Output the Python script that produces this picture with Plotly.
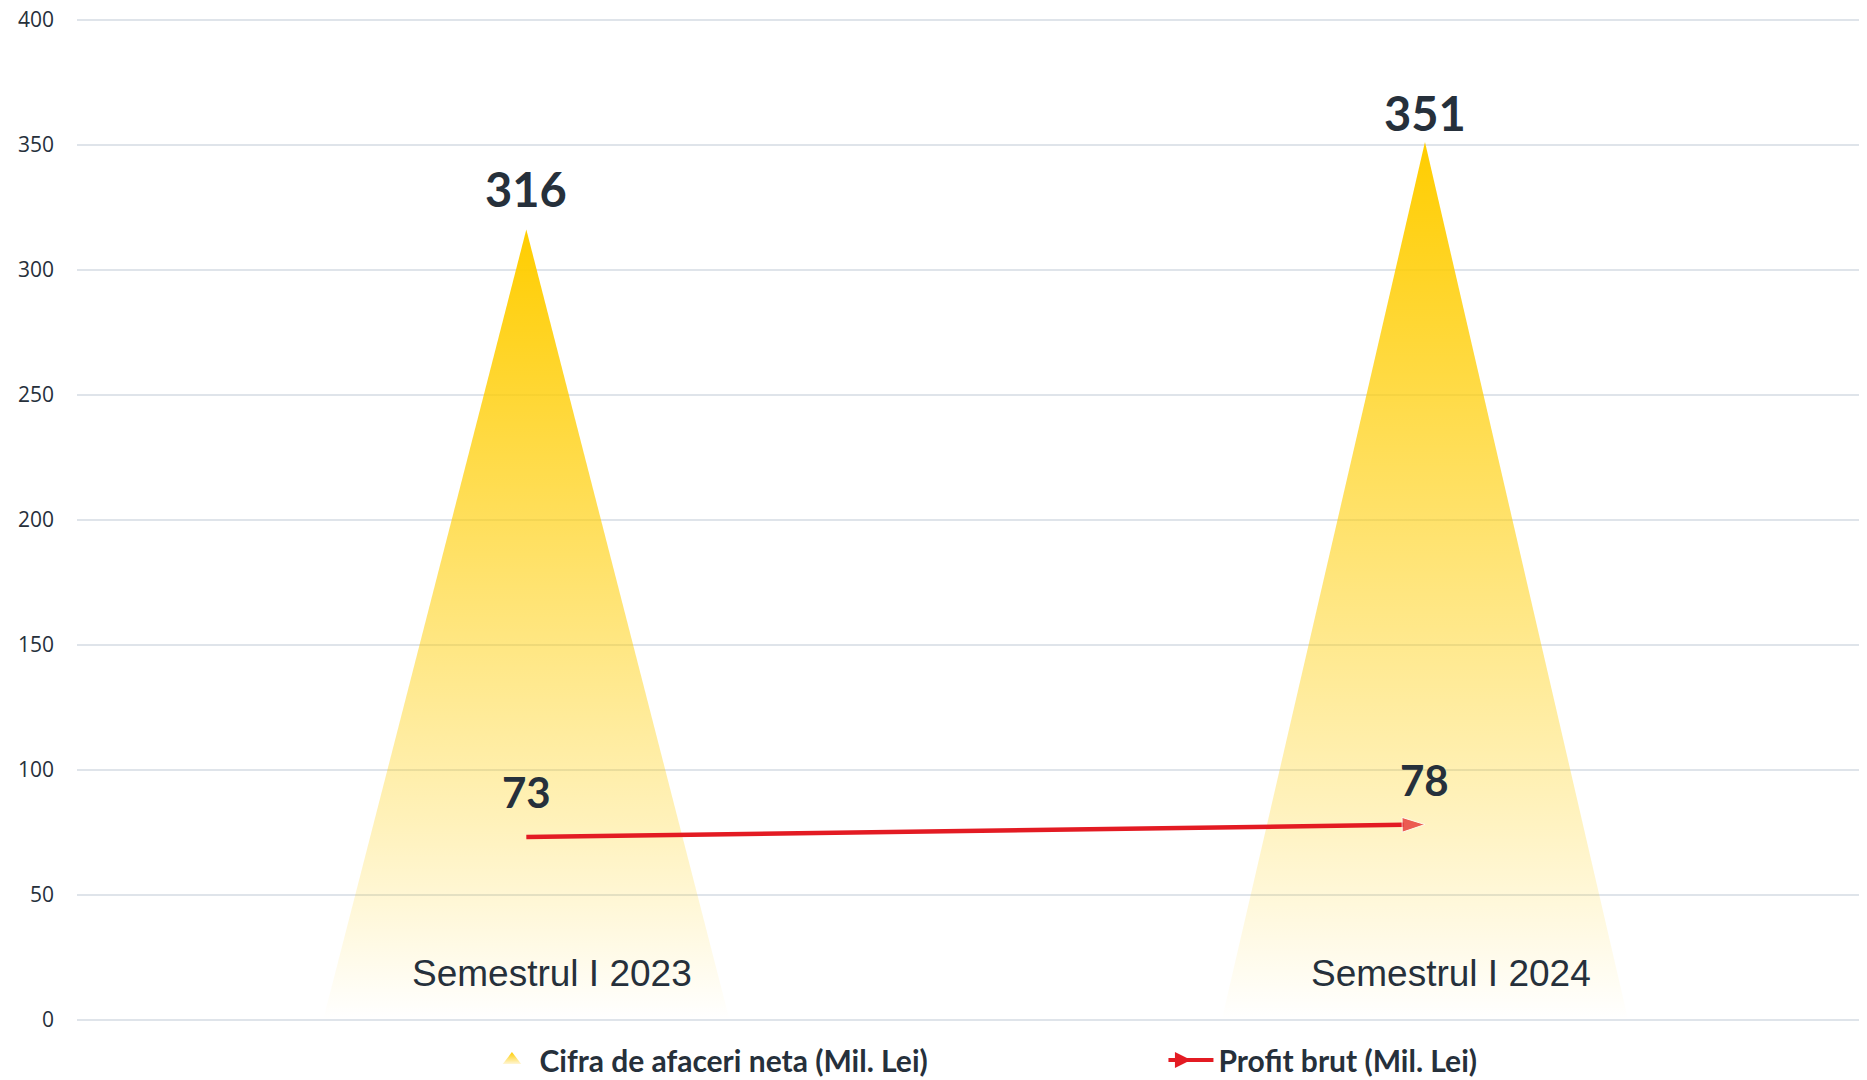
import plotly.graph_objects as go

categories = ["Semestrul I 2023", "Semestrul I 2024"]
cifra_afaceri = [316, 351]
profit_brut = [73, 78]
y_ticks = [0, 50, 100, 150, 200, 250, 300, 350, 400]
series_names = ["Cifra de afaceri neta (Mil. Lei)", "Profit brut (Mil. Lei)"]

TEXT = "#26303b"
GRID = "#dfe4ea"
YELLOW_SCALE = [[0, "rgba(255,205,0,0)"], [0.25, "rgba(255,205,0,0.27)"],
                [0.65, "rgba(255,205,0,0.66)"], [1, "rgba(255,205,0,1)"]]
RED = "#e31b23"
HALF_W = 0.226

fig = go.Figure()

# Triangles (one per category, each with its own vertical gradient)
for i, (cat, v) in enumerate(zip(categories, cifra_afaceri)):
    fig.add_trace(go.Scatter(
        x=[i - HALF_W, i, i + HALF_W, i - HALF_W],
        y=[0, v, 0, 0],
        mode="lines",
        line=dict(width=0, color="rgba(0,0,0,0)"),
        fill="toself",
        fillgradient=dict(type="vertical", colorscale=YELLOW_SCALE, start=0, stop=v),
        hoverinfo="skip",
        showlegend=False,
    ))

# Profit arrow line
fig.add_trace(go.Scatter(
    x=list(range(len(categories))),
    y=profit_brut,
    mode="lines+markers",
    line=dict(color=RED, width=4.5),
    marker=dict(symbol=["circle"] * (len(profit_brut) - 1) + ["arrow"],
                size=[4] * (len(profit_brut) - 1) + [24],
                angleref="previous", color=RED),
    showlegend=False,
))

# Legend proxies
fig.add_trace(go.Scatter(
    x=[None], y=[None], mode="markers", name=series_names[0],
    marker=dict(symbol="triangle-up", size=16, color="#ffcd00",
                gradient=dict(type="vertical", color="#fff6d8")),
))
fig.add_trace(go.Scatter(
    x=[None], y=[None], mode="lines+markers", name=series_names[1],
    line=dict(color=RED, width=4),
    marker=dict(symbol="arrow-right", size=16, color=RED),
))

annotations = []
# Triangle value labels
tri_label_shift = [41, 29]
for i, v in enumerate(cifra_afaceri):
    annotations.append(dict(
        x=i, y=v, text=f"<b>{v}</b>", showarrow=False, yanchor="middle",
        yshift=tri_label_shift[i],
        font=dict(family="Lato, Open Sans, sans-serif", size=47, color=TEXT),
    ))
# Profit labels
for i, v in enumerate(profit_brut):
    annotations.append(dict(
        x=i, y=v, text=f"<b>{v}</b>", showarrow=False, yanchor="middle",
        yshift=45,
        font=dict(family="Lato, Open Sans, sans-serif", size=42, color=TEXT),
    ))
# Category labels inside plot
for i, c in enumerate(categories):
    annotations.append(dict(
        x=i, y=0, text=c, showarrow=False, yanchor="middle",
        yshift=46, xshift=26,
        font=dict(family="Liberation Sans, Arial, sans-serif", size=37, color=TEXT),
    ))

fig.update_layout(
    width=1860, height=1080,
    margin=dict(l=69, r=0, t=10, b=67, autoexpand=False),
    paper_bgcolor="white", plot_bgcolor="white",
    xaxis=dict(range=[-0.5, 1.493], showgrid=False, zeroline=False,
               showticklabels=False, showline=False, fixedrange=True),
    yaxis=dict(range=[-0.6, 400.6], tickvals=y_ticks, showgrid=True, gridcolor=GRID,
               gridwidth=1.5, zeroline=False, showline=False, ticks="",
               automargin=False,
               ticklabelstandoff=22, ticklabeloverflow="allow",
               tickfont=dict(family="Open Sans, Noto Sans, sans-serif", size=21, color=TEXT)),
    legend=dict(orientation="h", x=0.2275, xanchor="left", y=-0.039, yanchor="middle",
                itemwidth=45, entrywidth=619,
                font=dict(family="Lato, Open Sans, sans-serif", size=30, color=TEXT,
                          weight="bold"),
                bgcolor="rgba(0,0,0,0)"),
    annotations=annotations,
    showlegend=True,
)

fig.write_html("out.html")
